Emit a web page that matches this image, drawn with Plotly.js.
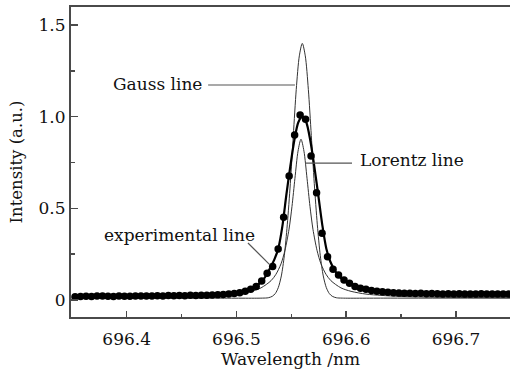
<!DOCTYPE html>
<html>
<head>
<meta charset="utf-8">
<script src="https://cdn.plot.ly/plotly-3.0.1.min.js"></script>
<style>html,body{margin:0;padding:0;background:#fff;}#chart{width:510px;height:373px;}</style>
</head>
<body>
<div id="chart"></div>
<script>
// Experimental points (wavelength nm, intensity a.u.)
const expX = [696.353,696.358,696.363,696.368,696.373,696.378,696.383,696.388,696.393,696.398,
  696.403,696.408,696.413,696.418,696.423,696.428,696.433,696.438,696.443,696.448,
  696.453,696.458,696.463,696.468,696.473,696.478,696.483,696.488,696.493,696.498,
  696.503,696.508,696.513,696.518,696.523,696.528,696.533,696.538,696.543,696.548,
  696.553,696.558,696.563,696.568,696.573,696.578,696.583,696.588,696.593,696.598,
  696.603,696.608,696.613,696.618,696.623,696.628,696.633,696.638,696.643,696.648,
  696.653,696.658,696.663,696.668,696.673,696.678,696.683,696.688,696.693,696.698,
  696.703,696.708,696.713,696.718,696.723,696.728,696.733,696.738,696.743,696.748];
const expY = [0.018,0.019,0.020,0.019,0.021,0.022,0.020,0.019,0.021,0.020,
  0.020,0.021,0.022,0.021,0.022,0.023,0.022,0.024,0.023,0.024,
  0.023,0.025,0.024,0.026,0.025,0.027,0.028,0.030,0.032,0.035,
  0.040,0.048,0.058,0.073,0.104,0.146,0.182,0.278,0.451,0.677,
  0.900,1.009,0.986,0.786,0.585,0.364,0.236,0.167,0.136,0.109,
  0.091,0.073,0.064,0.058,0.052,0.048,0.045,0.042,0.040,0.038,
  0.037,0.036,0.035,0.036,0.034,0.035,0.034,0.033,0.034,0.033,
  0.034,0.033,0.032,0.033,0.034,0.033,0.032,0.033,0.033,0.032];

// Fitted experimental line (thick)
const fitX = [696.350,696.4234,696.4689,696.4871,696.5008,696.5081,696.5145,696.5190,696.5236,696.5272,
  696.5308,696.5345,696.5381,696.5418,696.5454,696.5491,696.5527,696.5564,696.5600,696.5636,
  696.5673,696.5709,696.5746,696.5782,696.5819,696.5855,696.5892,696.5928,696.5974,696.6037,
  696.6101,696.6192,696.6329,696.6511,696.6967,696.750];
const fitY = [0.018,0.022,0.028,0.033,0.041,0.050,0.064,0.080,0.105,0.135,
  0.175,0.220,0.280,0.400,0.570,0.730,0.870,0.970,1.000,0.970,
  0.870,0.730,0.570,0.410,0.280,0.210,0.165,0.135,0.108,0.088,
  0.072,0.058,0.047,0.040,0.034,0.032];

// Gauss component (thin)
const gaussX = [696.350,696.480,696.5236,696.5290,696.5327,696.5354,696.5381,696.5409,696.5436,696.5463,
  696.5491,696.5518,696.5545,696.5573,696.5600,696.5627,696.5655,696.5682,696.5709,696.5737,
  696.5764,696.5791,696.5819,696.5846,696.5873,696.5910,696.5964,696.640,696.750];
const gaussY = [0.010,0.010,0.010,0.012,0.020,0.035,0.067,0.131,0.241,0.410,
  0.636,0.897,1.149,1.332,1.400,1.332,1.149,0.897,0.636,0.410,
  0.241,0.131,0.067,0.035,0.020,0.012,0.010,0.010,0.010];

// Lorentz component (thin)
const lorX = [696.350,696.4222,696.4677,696.4859,696.4996,696.5133,696.5224,696.5315,696.5360,696.5406,
  696.5442,696.5479,696.5506,696.5533,696.5561,696.5588,696.5615,696.5643,696.5670,696.5697,
  696.5734,696.5770,696.5816,696.5861,696.5952,696.6044,696.6180,696.6317,696.6499,696.6955,
  696.750];
const lorY = [0.012,0.014,0.019,0.025,0.032,0.047,0.066,0.105,0.140,0.197,
  0.271,0.386,0.510,0.664,0.812,0.877,0.812,0.664,0.510,0.386,
  0.271,0.197,0.140,0.105,0.066,0.047,0.032,0.025,0.019,0.014,
  0.012];

const labels = {gauss: "Gauss line", lorentz: "Lorentz line", exp: "experimental line"};

const traces = [
  {x: gaussX, y: gaussY, mode: "lines", line: {color: "#333", width: 1, shape: "spline", smoothing: 0.8}, hoverinfo: "skip"},
  {x: lorX, y: lorY, mode: "lines", line: {color: "#333", width: 1, shape: "spline", smoothing: 0.8}, hoverinfo: "skip"},
  {x: fitX, y: fitY, mode: "lines", line: {color: "#000", width: 2.2, shape: "spline", smoothing: 0.8}, hoverinfo: "skip"},
  {x: expX, y: expY, mode: "markers", marker: {color: "#000", size: 7.5}, hoverinfo: "skip"}
];

const font = "'DejaVu Serif', serif";
const layout = {
  width: 510, height: 373,
  margin: {l: 71, r: 0, t: 7, b: 56},
  paper_bgcolor: "#fff", plot_bgcolor: "#fff",
  showlegend: false,
  font: {family: font, size: 17, color: "#111"},
  xaxis: {
    range: [696.3493, 696.7492], showgrid: false, zeroline: false,
    showline: true, linecolor: "#4a4a4a", linewidth: 2, mirror: true,
    ticks: "inside", ticklen: 6, tickwidth: 1.5, tickcolor: "#4a4a4a",
    tickvals: [696.4, 696.5, 696.6, 696.7], ticktext: ["696.4", "696.5", "696.6", "696.7"],
    minor: {ticks: "inside", ticklen: 3.5, tickwidth: 1.5, tickcolor: "#4a4a4a", tickvals: [696.45, 696.55, 696.65]},
    tickfont: {family: font, size: 17},
    ticklabelstandoff: 6,
    title: {text: "Wavelength /nm", font: {family: font, size: 17}, standoff: 4}
  },
  yaxis: {
    range: [-0.093, 1.5985], showgrid: false, zeroline: false,
    showline: true, linecolor: "#4a4a4a", linewidth: 2,
    ticks: "inside", ticklen: 7, tickwidth: 1.5, tickcolor: "#4a4a4a",
    tickvals: [0, 0.5, 1.0, 1.5], ticktext: ["0", "0.5", "1.0", "1.5"],
    minor: {ticks: "inside", ticklen: 4, tickwidth: 1.5, tickcolor: "#4a4a4a", tickvals: [0.25, 0.75, 1.25]},
    tickfont: {family: font, size: 17},
    title: {text: "Intensity (a.u.)", font: {family: font, size: 16.5}, standoff: 12}
  },
  shapes: [
    {type: "line", xref: "x", yref: "y", x0: 696.4742, y0: 1.173, x1: 696.5533, y1: 1.173, line: {color: "#555", width: 1.2}},
    {type: "line", xref: "x", yref: "y", x0: 696.5625, y0: 0.747, x1: 696.6053, y1: 0.747, line: {color: "#555", width: 1.2}},
    {type: "line", xref: "x", yref: "y", x0: 696.5105, y0: 0.311, x1: 696.5305, y1: 0.191, line: {color: "#555", width: 1.2}}
  ],
  annotations: [
    {xref: "x", yref: "y", x: 696.3855, y: 1.178, text: labels.gauss, showarrow: false, xanchor: "left", yanchor: "middle", font: {family: font, size: 17, color: "#111"}},
    {xref: "x", yref: "y", x: 696.6108, y: 0.764, text: labels.lorentz, showarrow: false, xanchor: "left", yanchor: "middle", font: {family: font, size: 17, color: "#111"}},
    {xref: "x", yref: "y", x: 696.3775, y: 0.355, text: labels.exp, showarrow: false, xanchor: "left", yanchor: "middle", font: {family: font, size: 17, color: "#111"}}
  ]
};

Plotly.newPlot("chart", traces, layout, {staticPlot: true, displayModeBar: false});
</script>
</body>
</html>
